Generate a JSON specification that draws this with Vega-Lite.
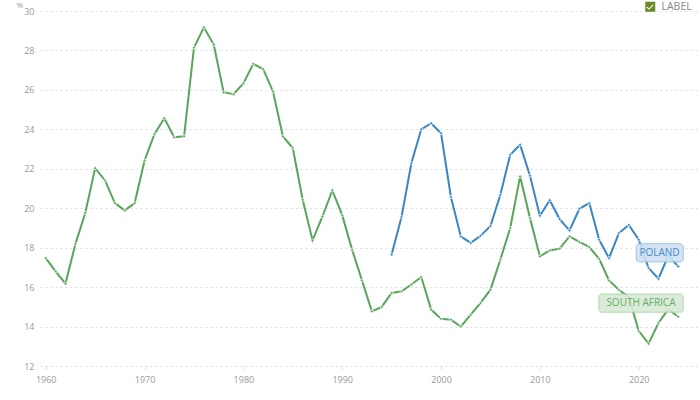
{
  "$schema": "https://vega.github.io/schema/vega-lite/v6.json",
  "width": 657,
  "height": 355,
  "autosize": "none",
  "padding": {"left": 40, "top": 11, "right": 3, "bottom": 34},
  "background": "white",
  "data": {
    "values": [
      {"country": "SOUTH AFRICA", "year": 1960, "value": 17.47},
      {"country": "SOUTH AFRICA", "year": 1961, "value": 16.8},
      {"country": "SOUTH AFRICA", "year": 1962, "value": 16.18},
      {"country": "SOUTH AFRICA", "year": 1963, "value": 18.18},
      {"country": "SOUTH AFRICA", "year": 1964, "value": 19.76},
      {"country": "SOUTH AFRICA", "year": 1965, "value": 22.03},
      {"country": "SOUTH AFRICA", "year": 1966, "value": 21.41},
      {"country": "SOUTH AFRICA", "year": 1967, "value": 20.26},
      {"country": "SOUTH AFRICA", "year": 1968, "value": 19.89},
      {"country": "SOUTH AFRICA", "year": 1969, "value": 20.26},
      {"country": "SOUTH AFRICA", "year": 1970, "value": 22.42},
      {"country": "SOUTH AFRICA", "year": 1971, "value": 23.75},
      {"country": "SOUTH AFRICA", "year": 1972, "value": 24.56},
      {"country": "SOUTH AFRICA", "year": 1973, "value": 23.6},
      {"country": "SOUTH AFRICA", "year": 1974, "value": 23.65},
      {"country": "SOUTH AFRICA", "year": 1975, "value": 28.14},
      {"country": "SOUTH AFRICA", "year": 1976, "value": 29.17},
      {"country": "SOUTH AFRICA", "year": 1977, "value": 28.3},
      {"country": "SOUTH AFRICA", "year": 1978, "value": 25.88},
      {"country": "SOUTH AFRICA", "year": 1979, "value": 25.78},
      {"country": "SOUTH AFRICA", "year": 1980, "value": 26.33},
      {"country": "SOUTH AFRICA", "year": 1981, "value": 27.32},
      {"country": "SOUTH AFRICA", "year": 1982, "value": 27.05},
      {"country": "SOUTH AFRICA", "year": 1983, "value": 25.92},
      {"country": "SOUTH AFRICA", "year": 1984, "value": 23.64},
      {"country": "SOUTH AFRICA", "year": 1985, "value": 23.05},
      {"country": "SOUTH AFRICA", "year": 1986, "value": 20.43},
      {"country": "SOUTH AFRICA", "year": 1987, "value": 18.37},
      {"country": "SOUTH AFRICA", "year": 1988, "value": 19.58},
      {"country": "SOUTH AFRICA", "year": 1989, "value": 20.9},
      {"country": "SOUTH AFRICA", "year": 1990, "value": 19.65},
      {"country": "SOUTH AFRICA", "year": 1991, "value": 17.9},
      {"country": "SOUTH AFRICA", "year": 1992, "value": 16.34},
      {"country": "SOUTH AFRICA", "year": 1993, "value": 14.77},
      {"country": "SOUTH AFRICA", "year": 1994, "value": 15.0},
      {"country": "SOUTH AFRICA", "year": 1995, "value": 15.7},
      {"country": "SOUTH AFRICA", "year": 1996, "value": 15.79},
      {"country": "SOUTH AFRICA", "year": 1997, "value": 16.13},
      {"country": "SOUTH AFRICA", "year": 1998, "value": 16.51},
      {"country": "SOUTH AFRICA", "year": 1999, "value": 14.86},
      {"country": "SOUTH AFRICA", "year": 2000, "value": 14.39},
      {"country": "SOUTH AFRICA", "year": 2001, "value": 14.35},
      {"country": "SOUTH AFRICA", "year": 2002, "value": 14.0},
      {"country": "SOUTH AFRICA", "year": 2003, "value": 14.6},
      {"country": "SOUTH AFRICA", "year": 2004, "value": 15.2},
      {"country": "SOUTH AFRICA", "year": 2005, "value": 15.87},
      {"country": "SOUTH AFRICA", "year": 2006, "value": 17.39},
      {"country": "SOUTH AFRICA", "year": 2007, "value": 19.0},
      {"country": "SOUTH AFRICA", "year": 2008, "value": 21.61},
      {"country": "SOUTH AFRICA", "year": 2009, "value": 19.5},
      {"country": "SOUTH AFRICA", "year": 2010, "value": 17.56},
      {"country": "SOUTH AFRICA", "year": 2011, "value": 17.86},
      {"country": "SOUTH AFRICA", "year": 2012, "value": 17.95},
      {"country": "SOUTH AFRICA", "year": 2013, "value": 18.57},
      {"country": "SOUTH AFRICA", "year": 2014, "value": 18.29},
      {"country": "SOUTH AFRICA", "year": 2015, "value": 18.03},
      {"country": "SOUTH AFRICA", "year": 2016, "value": 17.43},
      {"country": "SOUTH AFRICA", "year": 2017, "value": 16.34},
      {"country": "SOUTH AFRICA", "year": 2018, "value": 15.85},
      {"country": "SOUTH AFRICA", "year": 2019, "value": 15.5},
      {"country": "SOUTH AFRICA", "year": 2020, "value": 13.78},
      {"country": "SOUTH AFRICA", "year": 2021, "value": 13.13},
      {"country": "SOUTH AFRICA", "year": 2022, "value": 14.18},
      {"country": "SOUTH AFRICA", "year": 2023, "value": 14.88},
      {"country": "SOUTH AFRICA", "year": 2024, "value": 14.5},
      {"country": "POLAND", "year": 1995, "value": 17.65},
      {"country": "POLAND", "year": 1996, "value": 19.55},
      {"country": "POLAND", "year": 1997, "value": 22.29},
      {"country": "POLAND", "year": 1998, "value": 24.0},
      {"country": "POLAND", "year": 1999, "value": 24.31},
      {"country": "POLAND", "year": 2000, "value": 23.8},
      {"country": "POLAND", "year": 2001, "value": 20.57},
      {"country": "POLAND", "year": 2002, "value": 18.57},
      {"country": "POLAND", "year": 2003, "value": 18.24},
      {"country": "POLAND", "year": 2004, "value": 18.6},
      {"country": "POLAND", "year": 2005, "value": 19.1},
      {"country": "POLAND", "year": 2006, "value": 20.68},
      {"country": "POLAND", "year": 2007, "value": 22.71},
      {"country": "POLAND", "year": 2008, "value": 23.22},
      {"country": "POLAND", "year": 2009, "value": 21.65},
      {"country": "POLAND", "year": 2010, "value": 19.62},
      {"country": "POLAND", "year": 2011, "value": 20.4},
      {"country": "POLAND", "year": 2012, "value": 19.45},
      {"country": "POLAND", "year": 2013, "value": 18.88},
      {"country": "POLAND", "year": 2014, "value": 19.97},
      {"country": "POLAND", "year": 2015, "value": 20.26},
      {"country": "POLAND", "year": 2016, "value": 18.4},
      {"country": "POLAND", "year": 2017, "value": 17.47},
      {"country": "POLAND", "year": 2018, "value": 18.74},
      {"country": "POLAND", "year": 2019, "value": 19.15},
      {"country": "POLAND", "year": 2020, "value": 18.4},
      {"country": "POLAND", "year": 2021, "value": 16.97},
      {"country": "POLAND", "year": 2022, "value": 16.43},
      {"country": "POLAND", "year": 2023, "value": 17.6},
      {"country": "POLAND", "year": 2024, "value": 17.05}
    ]
  },
  "encoding": {
    "x": {
      "field": "year",
      "type": "quantitative",
      "scale": {"domain": [1959.42, 2025.9], "nice": false, "zero": false},
      "axis": {
        "values": [1960, 1970, 1980, 1990, 2000, 2010, 2020],
        "format": "d",
        "title": null,
        "grid": false,
        "domain": false,
        "ticks": true,
        "tickSize": 3,
        "tickColor": "#dddddd",
        "labelPadding": 6
      }
    },
    "y": {
      "field": "value",
      "type": "quantitative",
      "scale": {"domain": [12, 30], "nice": false, "zero": false},
      "axis": {
        "values": [12, 14, 16, 18, 20, 22, 24, 26, 28, 30],
        "title": "%",
        "titleAngle": 0,
        "titleX": -24,
        "titleY": -3.5,
        "titleAlign": "left",
        "titleBaseline": "alphabetic",
        "titleFontSize": 8,
        "titleFontWeight": "normal",
        "titleColor": "#999999",
        "grid": true,
        "gridColor": "#dddddd",
        "gridDash": [2, 3],
        "domain": false,
        "ticks": false,
        "labelPadding": 6
      }
    }
  },
  "layer": [
    {
      "mark": {"type": "line", "strokeWidth": 2},
      "encoding": {
        "color": {
          "field": "country",
          "type": "nominal",
          "scale": {"domain": ["POLAND", "SOUTH AFRICA"], "range": ["#3a86c5", "#5aa55a"]},
          "legend": null
        }
      }
    },
    {
      "mark": {"type": "point", "filled": true, "size": 9, "stroke": "white", "strokeWidth": 0.8, "opacity": 1},
      "encoding": {
        "color": {"field": "country", "type": "nominal", "legend": null}
      }
    },
    {
      "transform": [{"filter": "datum.year == 2024 && datum.country == 'POLAND'"}],
      "mark": {"type": "point", "opacity": 0, "filled": true},
      "encoding": {
        "fill": {
          "datum": "LABEL",
          "scale": {"range": ["#6a8a2a"]},
          "legend": {
            "title": null,
            "orient": "none",
            "legendX": 605,
            "legendY": -9.5,
            "padding": 0,
            "symbolType": "M-1,-1H1V1H-1Z M-0.65,-0.05L-0.8,0.1L-0.25,0.6L0.65,-0.3L0.5,-0.45L-0.25,0.35Z",
            "symbolSize": 100,
            "symbolOpacity": 1,
            "symbolStrokeWidth": 0,
            "labelFontSize": 10.5,
            "labelColor": "#888888",
            "labelOffset": 6
          }
        }
      }
    },
    {
      "transform": [{"filter": "datum.year == 2024 && datum.country == 'POLAND'"}],
      "layer": [
        {
          "mark": {
            "type": "rect",
            "xOffset": -42,
            "x2Offset": 5,
            "yOffset": -22.7,
            "y2Offset": -4.5,
            "cornerRadius": 3,
            "fill": "#cfe1f2",
            "stroke": "#96bfe3",
            "strokeWidth": 1,
            "opacity": 0.9
          },
          "encoding": {"x2": {"field": "year"}, "y2": {"field": "value"}}
        },
        {
          "mark": {"type": "text", "dx": -18.7, "dy": -13.5, "align": "center", "baseline": "middle", "fontSize": 10, "color": "#4a8bc8"},
          "encoding": {"text": {"field": "country"}}
        }
      ]
    },
    {
      "transform": [{"filter": "datum.year == 2024 && datum.country == 'SOUTH AFRICA'"}],
      "layer": [
        {
          "mark": {
            "type": "rect",
            "xOffset": -79.3,
            "x2Offset": 5,
            "yOffset": -22.7,
            "y2Offset": -4.5,
            "cornerRadius": 3,
            "fill": "#d7ead5",
            "stroke": "#a9d4a6",
            "strokeWidth": 1,
            "opacity": 0.9
          },
          "encoding": {"x2": {"field": "year"}, "y2": {"field": "value"}}
        },
        {
          "mark": {"type": "text", "dx": -37.3, "dy": -13.5, "align": "center", "baseline": "middle", "fontSize": 10, "color": "#6aab67"},
          "encoding": {"text": {"field": "country"}}
        }
      ]
    }
  ],
  "config": {
    "font": "Open Sans",
    "view": {"stroke": null},
    "axis": {
      "labelFont": "Open Sans",
      "labelFontSize": 9,
      "labelColor": "#999999"
    },
    "legend": {"labelFont": "Open Sans"}
  }
}
